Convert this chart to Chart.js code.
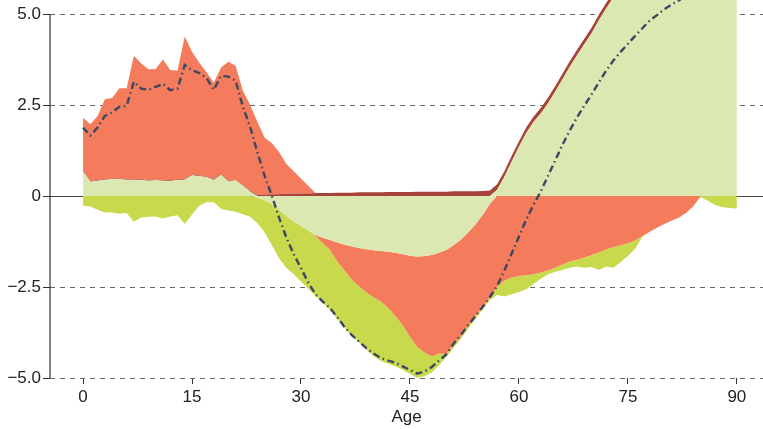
<!DOCTYPE html>
<html>
<head>
<meta charset="utf-8">
<script src="https://cdn.jsdelivr.net/npm/chart.js@4.4.1/dist/chart.umd.min.js"></script>
<style>
html,body{margin:0;padding:0;background:#ffffff;overflow:hidden}
canvas{display:block}
</style>
</head>
<body>
<canvas id="c" width="763" height="429"></canvas>
<script>
// ---- data ----
const ages = [0,1,2,3,4,5,6,7,8,9,10,11,12,13,14,15,16,17,18,19,20,21,22,23,24,25,26,27,28,29,30,31,32,33,34,35,36,37,38,39,40,41,42,43,44,45,46,47,48,49,50,51,52,53,54,55,56,57,58,59,60,61,62,63,64,65,66,67,68,69,70,71,72,73,74,75,76,77,78,79,80,81,82,83,84,85,86,87,88,89,90];

const lightGreen = [0.67,0.39,0.42,0.45,0.46,0.46,0.45,0.43,0.44,0.42,0.43,0.42,0.41,0.44,0.45,0.57,0.54,0.52,0.44,0.58,0.40,0.43,0.29,0.12,
  -0.05,-0.12,-0.22,-0.38,-0.55,-0.70,-0.82,-0.95,-1.08,-1.15,-1.21,-1.28,-1.34,-1.39,-1.43,-1.46,-1.49,-1.51,-1.53,-1.56,-1.60,-1.64,-1.67,-1.65,-1.62,-1.56,-1.48,-1.35,-1.20,-1.00,-0.78,-0.52,-0.22,
  0.17,0.53,0.95,1.35,1.73,2.03,2.27,2.55,2.87,3.21,3.55,3.87,4.17,4.47,4.83,5.15,5.45,5.57,5.65,5.69,5.71,5.71,5.72,5.75,5.78,5.81,5.85,5.88,5.91,5.93,5.95,5.97,5.99,6.01];

const darkRed = [0.02,0.02,0.02,0.02,0.02,0.02,0.02,0.02,0.02,0.02,0.02,0.02,0.02,0.02,0.02,0.02,0.02,0.02,0.02,0.02,0.02,0.02,0.02,0.02,
  0.03,0.04,0.05,0.05,0.06,0.06,0.07,0.07,0.08,0.08,0.08,0.09,0.09,0.09,0.10,0.10,0.10,0.10,0.11,0.11,0.11,0.11,0.12,0.12,0.12,0.12,0.12,0.13,0.13,0.13,0.13,0.14,0.15,
  0.15,0.15,0.15,0.15,0.15,0.15,0.15,0.15,0.15,0.15,0.15,0.15,0.15,0.15,0.15,0.15,0.15,0.15,0.15,0.15,0.15,0.15,0.15,0.15,0.15,0.15,0.15,0.15,0.15,0.15,0.15,0.15,0.15,0.15];

const orange = [1.46,1.56,1.76,2.19,2.21,2.48,2.49,3.40,3.18,3.04,3.04,3.31,3.03,2.98,3.91,3.37,3.10,2.86,2.65,2.93,3.27,3.13,2.58,2.36,
  2.01,1.56,1.40,1.15,0.82,0.62,0.41,0.21,
  -0.02,-0.15,-0.27,-0.52,-0.71,-0.91,-1.05,-1.19,-1.29,-1.39,-1.55,-1.74,-1.95,-2.23,-2.48,-2.65,-2.79,-2.77,-2.86,-2.74,-2.65,-2.57,-2.52,-2.52,-2.56,
  -2.50,-2.32,-2.24,-2.20,-2.18,-2.15,-2.10,-2.05,-1.97,-1.88,-1.80,-1.75,-1.69,-1.62,-1.55,-1.47,-1.40,-1.35,-1.30,-1.22,-1.10,-0.98,-0.87,-0.77,-0.68,-0.60,-0.47,-0.28,
  0,0,0,0,0,0];

const yellowGreen = [-0.27,-0.29,-0.38,-0.45,-0.45,-0.49,-0.47,-0.71,-0.59,-0.57,-0.56,-0.62,-0.56,-0.53,-0.77,-0.51,-0.27,-0.17,-0.17,-0.35,-0.40,-0.43,-0.50,-0.57,
  -0.70,-0.88,-1.13,-1.34,-1.43,-1.45,-1.53,-1.60,-1.65,-1.63,-1.65,-1.58,-1.57,-1.55,-1.55,-1.57,-1.62,-1.63,-1.53,-1.38,-1.23,-1.01,-0.85,-0.65,-0.44,-0.32,
  -0.08,-0.08,-0.08,-0.08,-0.08,-0.08,-0.08,
  -0.22,-0.44,-0.46,-0.44,-0.38,-0.27,-0.17,-0.10,-0.11,-0.15,-0.17,-0.19,-0.28,-0.33,-0.48,-0.47,-0.57,-0.47,-0.35,-0.23,-0.02,
  0,0,0,0,0,0,0,-0.03,-0.13,-0.25,-0.31,-0.33,-0.34];

const total = [1.88,1.66,1.88,2.20,2.30,2.45,2.48,3.14,2.95,2.92,3.00,3.08,2.91,2.95,3.60,3.45,3.38,3.24,2.92,3.30,3.28,3.17,2.45,1.90,
  1.20,0.55,0.00,-0.60,-1.15,-1.60,-1.98,-2.38,-2.70,-2.90,-3.08,-3.33,-3.60,-3.82,-4.00,-4.18,-4.33,-4.45,-4.52,-4.58,-4.68,-4.78,-4.88,-4.82,-4.70,-4.52,
  -4.35,-4.06,-3.82,-3.55,-3.30,-3.05,-2.78,-2.47,-2.05,-1.58,-1.12,-0.65,-0.24,0.12,0.55,0.98,1.41,1.80,2.16,2.48,2.79,3.12,3.44,3.72,3.96,4.18,4.40,4.61,4.82,4.97,5.13,5.26,5.37,5.50,5.72,6.00,5.92,5.84,5.80,5.80,5.80];

const xTicks = [0,15,30,45,60,75,90];
const yTicks = [-5,-2.5,0,2.5,5];

// ---- styles ----
const C_LIGHT = '#dce8b1';
const C_ORANGE = '#f47b5b';
const C_YG = '#c8d94b';
const C_DARK = '#a8433a';
const C_LINE = '#3b4862';
const FONT = "'Liberation Sans', Arial, sans-serif";

const posPart = a => a.map(v => Math.max(v, 0));
const negPart = a => a.map(v => Math.min(v, 0));
const area = (label, data, color, stack, fill) => ({
  label, data, backgroundColor: color, borderColor: 'rgba(0,0,0,0)', borderWidth: 0,
  pointRadius: 0, pointHoverRadius: 0, fill, stack, order: 1, tension: 0
});

const yAxisLine = {
  id: 'yAxisLine',
  afterDatasetsDraw(chart) {
    const ys = chart.scales.y;
    const ctx = chart.ctx;
    const x = chart.chartArea.left;
    ctx.save();
    ctx.strokeStyle = '#333';
    ctx.lineWidth = 1.2;
    ctx.beginPath();
    ctx.moveTo(x, ys.getPixelForValue(yTicks[yTicks.length - 1]));
    ctx.lineTo(x, ys.getPixelForValue(yTicks[0]));
    ctx.stroke();
    ctx.restore();
  }
};

new Chart(document.getElementById('c'), {
  type: 'line',
  data: {
    labels: ages,
    datasets: [
      { label: 'Total', data: total, borderColor: C_LINE, backgroundColor: C_LINE, borderWidth: 2.4,
        borderDash: [7, 3.5, 1.5, 3.5], pointRadius: 0, pointHoverRadius: 0, fill: false, stack: 'total', order: 0, tension: 0 },
      area('LightGreen+', posPart(lightGreen), C_LIGHT, 'pos', 'origin'),
      area('DarkRed+', posPart(darkRed), C_DARK, 'pos', '-1'),
      area('Orange+', posPart(orange), C_ORANGE, 'pos', '-1'),
      area('LightGreen-', negPart(lightGreen), C_LIGHT, 'neg', 'origin'),
      area('Orange-', negPart(orange), C_ORANGE, 'neg', '-1'),
      area('YellowGreen-', negPart(yellowGreen), C_YG, 'neg', '-1')
    ]
  },
  options: {
    responsive: false,
    animation: false,
    events: [],
    layout: { autoPadding: false, padding: 0 },
    plugins: { legend: { display: false }, tooltip: { enabled: false } },
    scales: {
      x: {
        type: 'linear', min: -4.55, max: 93.6,
        afterBuildTicks: s => { s.ticks = xTicks.map(v => ({ value: v })); },
        afterFit: s => { s.height = 51; s.paddingLeft = 0; s.paddingRight = 0; },
        grid: { drawOnChartArea: false, drawTicks: true, tickLength: 6, tickColor: '#333', tickWidth: 1, color: '#333' },
        border: { display: false },
        ticks: { color: '#222', font: { family: FONT, size: 17 }, padding: 3, maxRotation: 0, autoSkip: false },
        title: { display: true, text: 'Age', color: '#222', font: { family: FONT, size: 17 }, padding: { top: 0, bottom: 1 } }
      },
      y: {
        type: 'linear', stacked: true, min: -5, max: 5.385,
        afterBuildTicks: s => { s.ticks = yTicks.map(v => ({ value: v })); },
        afterFit: s => { s.width = 50; s.paddingTop = 0; s.paddingBottom = 0; },
        grid: {
          color: ctx => (ctx.tick && ctx.tick.value === 0) ? '#4a4a4a' : '#666',
          lineWidth: 1, drawTicks: true, tickLength: 7, tickColor: '#333', tickWidth: 1
        },
        border: { display: false, dash: ctx => (ctx.tick && ctx.tick.value === 0) ? [] : [5, 5] },
        ticks: {
          color: '#222', font: { family: FONT, size: 17 }, padding: 2,
          callback: v => v === 0 ? '0' : v.toFixed(1).replace('-', '\u2212')
        }
      }
    }
  },
  plugins: [yAxisLine]
});
</script>
</body>
</html>
